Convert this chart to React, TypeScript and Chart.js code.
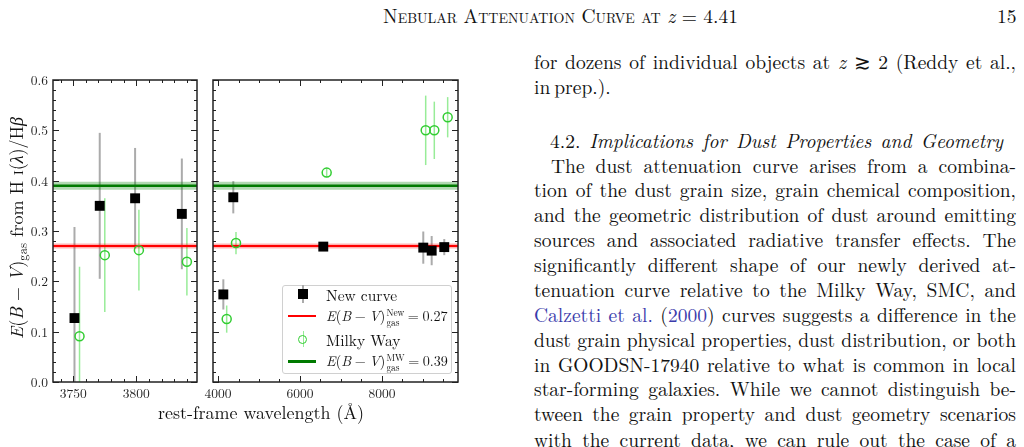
import React, { useEffect, useRef, useState } from "react";
import { Chart, registerables } from "chart.js";
Chart.register(...registerables);

// ---------- data ----------
const yTicks = [0, 0.1, 0.2, 0.3, 0.4, 0.5, 0.6];
const xTicksA = [3750, 3800];
const xTicksB = [4000, 6000, 8000];

// left panel (high-order Balmer lines)
const newLambdaA = [3751, 3771, 3799, 3836];
const newEbvA = [0.127, 0.35, 0.365, 0.334];
const newErrA = [0.181, 0.145, 0.1, 0.11];
const mwLambdaA = [3755, 3775, 3802, 3840];
const mwEbvA = [0.091, 0.252, 0.262, 0.239];
const mwErrA = [0.138, 0.113, 0.08, 0.067];

// right panel
const newLambdaB = [4130, 4373, 6568, 9007, 9212, 9519];
const newEbvB = [0.174, 0.367, 0.269, 0.267, 0.261, 0.268];
const newErrB = [0.03, 0.032, 0.006, 0.032, 0.029, 0.016];
const mwLambdaB = [4212, 4439, 6651, 9066, 9276, 9602];
const mwEbvB = [0.125, 0.276, 0.416, 0.5, 0.5, 0.526];
const mwErrB = [0.027, 0.022, 0.009, 0.069, 0.057, 0.04];

const ebvNew = 0.27;
const ebvNewBand = 0.005;
const ebvMW = 0.39;
const ebvMWBand = 0.008;

const FONT = "'Latin Modern Roman', 'Liberation Serif', serif";

const CANVAS_A = { left: 0, top: 70, width: 205, height: 330 };
const CANVAS_B = { left: 200, top: 70, width: 265, height: 330 };

type PanelCfg = {
  xMin: number;
  xMax: number;
  xTicks: number[];
  xMinor: number;
  newL: number[];
  newY: number[];
  newE: number[];
  mwL: number[];
  mwY: number[];
  mwE: number[];
  yAxisWidth: number;
  padRight: number;
};

type TickLabel = { text: string; x: number; y: number; axis: "x" | "y" };

function framePlugin(xMinor: number, yMinor: number) {
  return {
    id: "frameTicks",
    afterDatasetsDraw(chart: any) {
      const { ctx, chartArea: a, scales } = chart;
      const xs = scales.x;
      const ys = scales.y;
      ctx.save();
      ctx.strokeStyle = "#222";
      ctx.lineWidth = 1;
      const seg = (x1: number, y1: number, x2: number, y2: number) => {
        ctx.beginPath();
        ctx.moveTo(x1, y1);
        ctx.lineTo(x2, y2);
        ctx.stroke();
      };
      const xMajors = xs.ticks.map((t: any) => t.value);
      const yMajors = ys.ticks.map((t: any) => t.value);
      const xTick = (v: number, len: number) => {
        const p = Math.round(xs.getPixelForValue(v)) + 0.5;
        seg(p, a.bottom, p, a.bottom - len);
        seg(p, a.top, p, a.top + len);
      };
      const yTick = (v: number, len: number) => {
        const p = Math.round(ys.getPixelForValue(v)) + 0.5;
        seg(a.left, p, a.left + len, p);
        seg(a.right, p, a.right - len, p);
      };
      const i0 = Math.ceil(xs.min / xMinor);
      const i1 = Math.floor(xs.max / xMinor);
      for (let i = i0; i <= i1; i++) {
        const v = i * xMinor;
        if (xMajors.some((m: number) => Math.abs(m - v) < 1e-6)) continue;
        xTick(v, 3);
      }
      xMajors.forEach((v: number) => xTick(v, 6));
      const j0 = Math.ceil(ys.min / yMinor - 1e-9);
      const j1 = Math.floor(ys.max / yMinor + 1e-9);
      for (let j = j0; j <= j1; j++) {
        const v = j * yMinor;
        if (yMajors.some((m: number) => Math.abs(m - v) < 1e-6)) continue;
        yTick(v, 3);
      }
      yMajors.forEach((v: number) => yTick(v, 6));
      ctx.lineWidth = 1.5;
      ctx.strokeRect(a.left, a.top, a.right - a.left, a.bottom - a.top);
      ctx.restore();
    },
  };
}

function errPlugin(c: PanelCfg) {
  return {
    id: "errBars",
    beforeDatasetsDraw(chart: any) {
      const { ctx, chartArea: a, scales } = chart;
      const xs = scales.x;
      const ys = scales.y;
      ctx.save();
      ctx.beginPath();
      ctx.rect(a.left, a.top, a.right - a.left, a.bottom - a.top);
      ctx.clip();
      const draw = (L: number[], Y: number[], E: number[], color: string, w: number) => {
        ctx.strokeStyle = color;
        ctx.lineWidth = w;
        L.forEach((l, i) => {
          const px = xs.getPixelForValue(l);
          ctx.beginPath();
          ctx.moveTo(px, ys.getPixelForValue(Y[i] - E[i]));
          ctx.lineTo(px, ys.getPixelForValue(Y[i] + E[i]));
          ctx.stroke();
        });
      };
      draw(c.newL, c.newY, c.newE, "#ababab", 2);
      draw(c.mwL, c.mwY, c.mwE, "#98ec98", 1.5);
      ctx.restore();
    },
  };
}

function buildConfig(c: PanelCfg): any {
  const pts = (xs: number[], ys: number[]) => xs.map((x, i) => ({ x, y: ys[i] }));
  const hline = (y: number) => [
    { x: c.xMin, y },
    { x: c.xMax, y },
  ];
  const clear = "rgba(0,0,0,0)";
  return {
    type: "scatter",
    data: {
      datasets: [
        {
          type: "scatter",
          data: pts(c.mwL, c.mwY),
          pointStyle: "circle",
          pointRadius: 4.5,
          pointBorderColor: "#32cd32",
          pointBackgroundColor: clear,
          pointBorderWidth: 1.5,
          order: 1,
        },
        {
          type: "scatter",
          data: pts(c.newL, c.newY),
          pointStyle: "rect",
          pointRadius: 7,
          pointBorderColor: "#000",
          pointBackgroundColor: "#000",
          pointBorderWidth: 0,
          order: 2,
        },
        {
          type: "line",
          data: hline(ebvNew),
          borderColor: "#ff0000",
          borderWidth: 2,
          pointRadius: 0,
          fill: false,
          order: 3,
        },
        {
          type: "line",
          data: hline(ebvMW),
          borderColor: "#007a00",
          borderWidth: 2.5,
          pointRadius: 0,
          fill: false,
          order: 3,
        },
        {
          type: "line",
          data: hline(ebvNew - ebvNewBand),
          borderColor: clear,
          borderWidth: 0,
          pointRadius: 0,
          fill: false,
          order: 4,
        },
        {
          type: "line",
          data: hline(ebvNew + ebvNewBand),
          borderColor: clear,
          borderWidth: 0,
          pointRadius: 0,
          fill: "-1",
          backgroundColor: "rgba(255,0,0,0.3)",
          order: 4,
        },
        {
          type: "line",
          data: hline(ebvMW - ebvMWBand),
          borderColor: clear,
          borderWidth: 0,
          pointRadius: 0,
          fill: false,
          order: 5,
        },
        {
          type: "line",
          data: hline(ebvMW + ebvMWBand),
          borderColor: clear,
          borderWidth: 0,
          pointRadius: 0,
          fill: "-1",
          backgroundColor: "rgba(0,128,0,0.3)",
          order: 5,
        },
      ],
    },
    options: {
      animation: false,
      responsive: false,
      maintainAspectRatio: false,
      devicePixelRatio: 1,
      events: [],
      layout: { padding: { top: 10, right: c.padRight, left: 0, bottom: 0 } },
      plugins: { legend: { display: false }, tooltip: { enabled: false } },
      scales: {
        x: {
          type: "linear",
          min: c.xMin,
          max: c.xMax,
          afterBuildTicks: (s: any) => {
            s.ticks = c.xTicks.map((v) => ({ value: v }));
          },
          afterFit: (s: any) => {
            s.height = 18;
          },
          ticks: { display: false },
          grid: { display: false, drawTicks: false },
          border: { display: false },
        },
        y: {
          type: "linear",
          min: 0,
          max: 0.6,
          afterBuildTicks: (s: any) => {
            s.ticks = yTicks.map((v) => ({ value: v }));
          },
          afterFit: (s: any) => {
            s.width = c.yAxisWidth;
          },
          ticks: { display: false },
          grid: { display: false, drawTicks: false },
          border: { display: false },
        },
      },
    },
    plugins: [errPlugin(c), framePlugin(c.xMinor, 0.02)],
  };
}

// tick labels placed through the charts' own scales
function collectLabels(chart: any, box: { left: number; top: number }, withY: boolean): TickLabel[] {
  const out: TickLabel[] = [];
  const xs = chart.scales.x;
  const ys = chart.scales.y;
  xs.ticks.forEach((t: any) => {
    out.push({ text: String(t.value), x: box.left + xs.getPixelForValue(t.value), y: box.top + chart.chartArea.bottom, axis: "x" });
  });
  if (withY) {
    ys.ticks.forEach((t: any) => {
      out.push({ text: Number(t.value).toFixed(1), x: box.left + chart.chartArea.left, y: box.top + ys.getPixelForValue(t.value), axis: "y" });
    });
  }
  return out;
}

const SupSub = ({ sup, sub }: { sup: string; sub: string }) => (
  <span
    style={{
      display: "inline-block",
      verticalAlign: "middle",
      fontSize: "0.66em",
      lineHeight: "1.05",
      textAlign: "left",
      marginLeft: 1,
    }}
  >
    <span style={{ display: "block" }}>{sup}</span>
    <span style={{ display: "block" }}>{sub}</span>
  </span>
);

const EBV = ({ sup, val }: { sup: string; val: string }) => (
  <span style={{ fontSize: 14.2 }}>
    <i>E</i>(<i>B</i>
    {"\u2005−\u2005"}
    <i>V</i>)
    <SupSub sup={sup} sub="gas" />
    {"\u2005=\u2005"}
    {val}
  </span>
);

const bodyLines: { text: React.ReactNode; y: number; x: number; w: number; justify: boolean }[] = [
  { text: <>for dozens of individual objects at <i>z</i> ≳ 2 (Reddy et al.,</>, y: 62, x: 534, w: 482, justify: true },
  { text: <>in prep.).</>, y: 87, x: 534, w: 482, justify: false },
  { text: <>4.2. <i>Implications for Dust Properties and Geometry</i></>, y: 141, x: 550, w: 453, justify: true },
  { text: <>The dust attenuation curve arises from a combina-</>, y: 166, x: 551, w: 465, justify: true },
  { text: <>tion of the dust grain size, grain chemical composition,</>, y: 190, x: 534, w: 482, justify: true },
  { text: <>and the geometric distribution of dust around emitting</>, y: 215, x: 534, w: 482, justify: true },
  { text: <>sources and associated radiative transfer effects. The</>, y: 240, x: 534, w: 482, justify: true },
  { text: <>significantly different shape of our newly derived at-</>, y: 265, x: 534, w: 482, justify: true },
  { text: <>tenuation curve relative to the Milky Way, SMC, and</>, y: 290, x: 534, w: 482, justify: true },
  {
    text: (
      <>
        <span style={{ color: "#3b3bab" }}>Calzetti et al.</span> (<span style={{ color: "#3b3bab" }}>2000</span>) curves suggests a difference in the
      </>
    ),
    y: 315,
    x: 534,
    w: 482,
    justify: true,
  },
  { text: <>dust grain physical properties, dust distribution, or both</>, y: 340, x: 534, w: 482, justify: true },
  { text: <>in GOODSN-17940 relative to what is common in local</>, y: 365, x: 534, w: 482, justify: true },
  { text: <>star-forming galaxies. While we cannot distinguish be-</>, y: 389, x: 534, w: 482, justify: true },
  { text: <>tween the grain property and dust geometry scenarios</>, y: 414, x: 534, w: 482, justify: true },
  { text: <>with the current data, we can rule out the case of a</>, y: 440, x: 534, w: 482, justify: true },
];

export default function App() {
  const refA = useRef<HTMLCanvasElement>(null);
  const refB = useRef<HTMLCanvasElement>(null);
  const [labels, setLabels] = useState<TickLabel[]>([]);

  useEffect(() => {
    const a = new Chart(
      refA.current!,
      buildConfig({
        xMin: 3734,
        xMax: 3848,
        xTicks: xTicksA,
        xMinor: 10,
        newL: newLambdaA,
        newY: newEbvA,
        newE: newErrA,
        mwL: mwLambdaA,
        mwY: mwEbvA,
        mwE: mwErrA,
        yAxisWidth: 53,
        padRight: 8,
      })
    );
    const b = new Chart(
      refB.current!,
      buildConfig({
        xMin: 3878,
        xMax: 9854,
        xTicks: xTicksB,
        xMinor: 500,
        newL: newLambdaB,
        newY: newEbvB,
        newE: newErrB,
        mwL: mwLambdaB,
        mwY: mwEbvB,
        mwE: mwErrB,
        yAxisWidth: 13,
        padRight: 7,
      })
    );
    setLabels([...collectLabels(a, CANVAS_A, true), ...collectLabels(b, CANVAS_B, false)]);
    return () => {
      a.destroy();
      b.destroy();
    };
  }, []);

  const textBase: React.CSSProperties = {
    position: "absolute",
    fontFamily: FONT,
    color: "#111",
    whiteSpace: "nowrap",
  };

  return (
    <div
      style={{
        position: "fixed",
        left: 0,
        top: 0,
        width: 1024,
        height: 447,
        overflow: "hidden",
        background: "#fff",
        fontFamily: FONT,
      }}
    >
      {/* running header */}
      <div style={{ ...textBase, left: 383, top: 3, fontSize: 19.5, lineHeight: "24px" }}>
        <span style={{ fontVariant: "small-caps" }}>Nebular Attenuation Curve at</span> <i>z</i> = 4.41
      </div>
      <div style={{ ...textBase, left: 997, top: 3, fontSize: 19.5, lineHeight: "24px" }}>15</div>

      {/* body text */}
      {bodyLines.map((l, i) => (
        <div
          key={i}
          style={{
            ...textBase,
            whiteSpace: "normal",
            left: l.x,
            top: l.y - 13,
            width: l.w,
            height: 24,
            lineHeight: "24px",
            fontSize: 19.5,
            wordSpacing: -2.5,
            textAlign: l.justify ? "justify" : "left",
            textAlignLast: l.justify ? "justify" : "left",
          } as React.CSSProperties}
        >
          {l.text}
        </div>
      ))}

      {/* charts */}
      <canvas ref={refA} width={CANVAS_A.width} height={CANVAS_A.height} style={{ position: "absolute", left: CANVAS_A.left, top: CANVAS_A.top }} />
      <canvas ref={refB} width={CANVAS_B.width} height={CANVAS_B.height} style={{ position: "absolute", left: CANVAS_B.left, top: CANVAS_B.top }} />

      {/* tick labels */}
      {labels.map((t, i) =>
        t.axis === "x" ? (
          <div
            key={i}
            style={{
              ...textBase,
              left: t.x,
              top: t.y + 3,
              fontSize: 13.5,
              lineHeight: "16px",
              color: "#222",
              transform: "translateX(-50%)",
            }}
          >
            {t.text}
          </div>
        ) : (
          <div
            key={i}
            style={{
              ...textBase,
              right: 1024 - (t.x - 5),
              top: t.y - 8,
              fontSize: 13.5,
              lineHeight: "16px",
              color: "#222",
              textAlign: "right",
            }}
          >
            {t.text}
          </div>
        )
      )}

      {/* y-axis title */}
      <div
        style={{
          ...textBase,
          left: 19,
          top: 228,
          fontSize: 18,
          transform: "translate(-50%, -50%) rotate(-90deg)",
          lineHeight: "22px",
        }}
      >
        <i>E</i>(<i>B</i> − <i>V</i>)
        <sub style={{ fontSize: "0.7em", verticalAlign: "-0.3em" }}>gas</sub> from H{" "}
        <span style={{ fontVariant: "small-caps" }}>i</span>(<i>λ</i>)/H<i>β</i>
      </div>

      {/* x-axis title */}
      <div
        style={{
          ...textBase,
          left: 261,
          top: 412,
          fontSize: 18,
          transform: "translate(-50%, -50%)",
          lineHeight: "22px",
        }}
      >
        rest-frame wavelength (Å)
      </div>

      {/* legend */}
      <div
        style={{
          position: "absolute",
          left: 282,
          top: 285,
          width: 170,
          height: 89,
          boxSizing: "border-box",
          border: "1px solid #d0d0d0",
          borderRadius: 3,
          background: "rgba(255,255,255,0.85)",
          fontFamily: FONT,
          fontSize: 15.5,
          color: "#111",
        }}
      >
        {[
          { y: 8, kind: "sq", label: <>New curve</> },
          { y: 30, kind: "red", label: <EBV sup="New" val="0.27" /> },
          { y: 53, kind: "circ", label: <>Milky Way</> },
          { y: 75, kind: "green", label: <EBV sup="MW" val="0.39" /> },
        ].map((r, i) => (
          <React.Fragment key={i}>
            <div style={{ position: "absolute", left: 5, top: r.y - 10, width: 30, height: 20 }}>
              {r.kind === "sq" && (
                <>
                  <div style={{ position: "absolute", left: 14, top: 1, width: 2, height: 18, background: "#ababab" }} />
                  <div style={{ position: "absolute", left: 10, top: 5, width: 10, height: 10, background: "#000" }} />
                </>
              )}
              {r.kind === "circ" && (
                <>
                  <div style={{ position: "absolute", left: 14.5, top: 2, width: 1.5, height: 16, background: "#98ec98" }} />
                  <div
                    style={{
                      position: "absolute",
                      left: 10,
                      top: 5.5,
                      width: 9,
                      height: 9,
                      borderRadius: "50%",
                      border: "1.5px solid #32cd32",
                      boxSizing: "border-box",
                    }}
                  />
                </>
              )}
              {r.kind === "red" && <div style={{ position: "absolute", left: 0, top: 9, width: 28, height: 2, background: "#ff0000" }} />}
              {r.kind === "green" && <div style={{ position: "absolute", left: 0, top: 9, width: 28, height: 2.5, background: "#007a00" }} />}
            </div>
            <div style={{ position: "absolute", left: 43, top: r.y - 11, height: 22, display: "flex", alignItems: "center", whiteSpace: "nowrap" }}>
              <span>{r.label}</span>
            </div>
          </React.Fragment>
        ))}
      </div>
    </div>
  );
}
